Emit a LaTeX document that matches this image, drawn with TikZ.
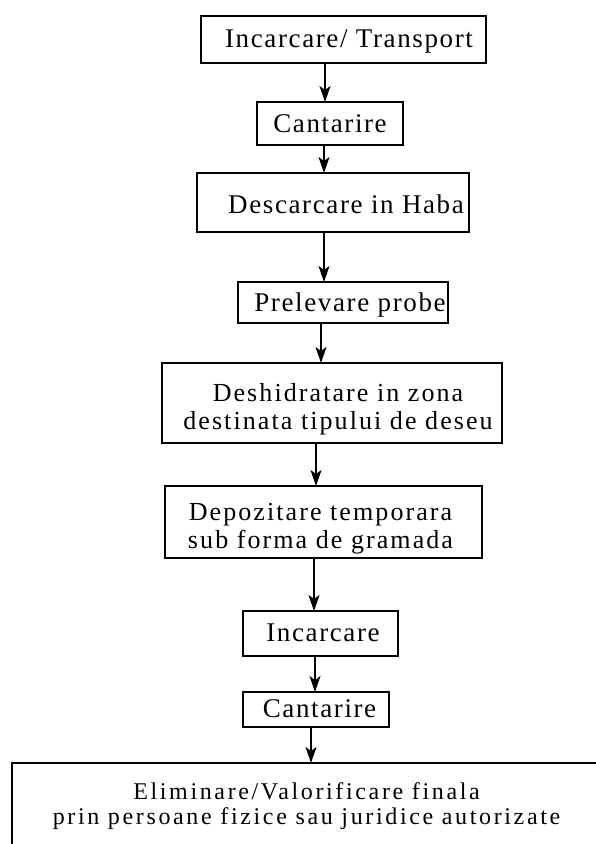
\documentclass[tikz,border=0pt]{standalone}
\usepackage{fontspec}
\setmainfont{Liberation Serif}
\newfontfamily\fonta{Liberation Serif}[LetterSpace=6]
\newfontfamily\fontb{Liberation Serif}[LetterSpace=8]
\newfontfamily\fontc{Liberation Serif}[LetterSpace=11]
\usetikzlibrary{arrows.meta}
\begin{document}
\begin{tikzpicture}[x=1pt,y=-1pt,
  box/.style={draw, line width=1.4pt, inner sep=0pt, outer sep=0pt, rectangle},
  txt/.style={anchor=base, inner sep=0pt, font=\fonta\fontsize{27}{28}\selectfont},
  txtb/.style={anchor=base, inner sep=0pt, font=\fontb\fontsize{26}{28}\selectfont},
  txtc/.style={anchor=base, inner sep=0pt, font=\fontc\fontsize{24}{25}\selectfont},
  arr/.style={line width=1.4pt, -{Stealth[length=16pt,width=11pt,inset=4pt]}}]
\fill[white] (0,0) rectangle (595,844);
\useasboundingbox (0,0) rectangle (595,844);
% boxes
\node[box, minimum width=285pt, minimum height=47pt] (b1) at (343.5,39.5) {};
\node[box, minimum width=146pt, minimum height=43pt] (b2) at (330,123.5) {};
\node[box, minimum width=272pt, minimum height=59pt] (b3) at (333,202.5) {};
\node[box, minimum width=210pt, minimum height=41pt] (b4) at (343,302.5) {};
\node[box, minimum width=340pt, minimum height=80pt] (b5) at (332,403) {};
\node[box, minimum width=317pt, minimum height=72pt] (b6) at (323.5,522) {};
\node[box, minimum width=155pt, minimum height=45pt] (b7) at (320.5,633.5) {};
\node[box, minimum width=146pt, minimum height=35pt] (b8) at (316,709.5) {};
\node[box, minimum width=620pt, minimum height=120pt] (b9) at (322,823) {};
% texts
\node[txt] (t1) at (349,47) {Incarcare/ Transport};
\node[txt] (t2) at (330,132) {Cantarire};
\node[txt] (t3) at (346,213) {Descarcare in Haba};
\node[txt] (t4) at (350,311) {Prelevare probe};
\node[txtb] (t5) at (338,401) {\begin{tabular}[t]{@{}c@{}}Deshidratare in zona\\destinata tipului de deseu\end{tabular}};
\node[txtb] (t6) at (320.5,520) {\begin{tabular}[t]{@{}c@{}}Depozitare temporara\\sub forma de gramada\end{tabular}};
\node[txt] (t7) at (323,641) {Incarcare};
\node[txt] (t8) at (319.5,717) {Cantarire};
\node[txtc] (t9) at (306.5,799) {\begin{tabular}[t]{@{}c@{}}Eliminare/Valorificare finala\\prin persoane fizice sau juridice autorizate\end{tabular}};
% arrow x positions
\coordinate (ax1) at (325,0);
\coordinate (ax2) at (324,0);
\coordinate (ax3) at (324,0);
\coordinate (ax4) at (321,0);
\coordinate (ax5) at (316,0);
\coordinate (ax6) at (314,0);
\coordinate (ax7) at (315,0);
\coordinate (ax8) at (311,0);
\draw[arr] (b1.south -| ax1) -- (b2.north -| ax1);
\draw[arr] (b2.south -| ax2) -- (b3.north -| ax2);
\draw[arr] (b3.south -| ax3) -- (b4.north -| ax3);
\draw[arr] (b4.south -| ax4) -- (b5.north -| ax4);
\draw[arr] (b5.south -| ax5) -- (b6.north -| ax5);
\draw[arr] (b6.south -| ax6) -- (b7.north -| ax6);
\draw[arr] (b7.south -| ax7) -- (b8.north -| ax7);
\draw[arr] (b8.south -| ax8) -- (b9.north -| ax8);
\end{tikzpicture}
\end{document}
